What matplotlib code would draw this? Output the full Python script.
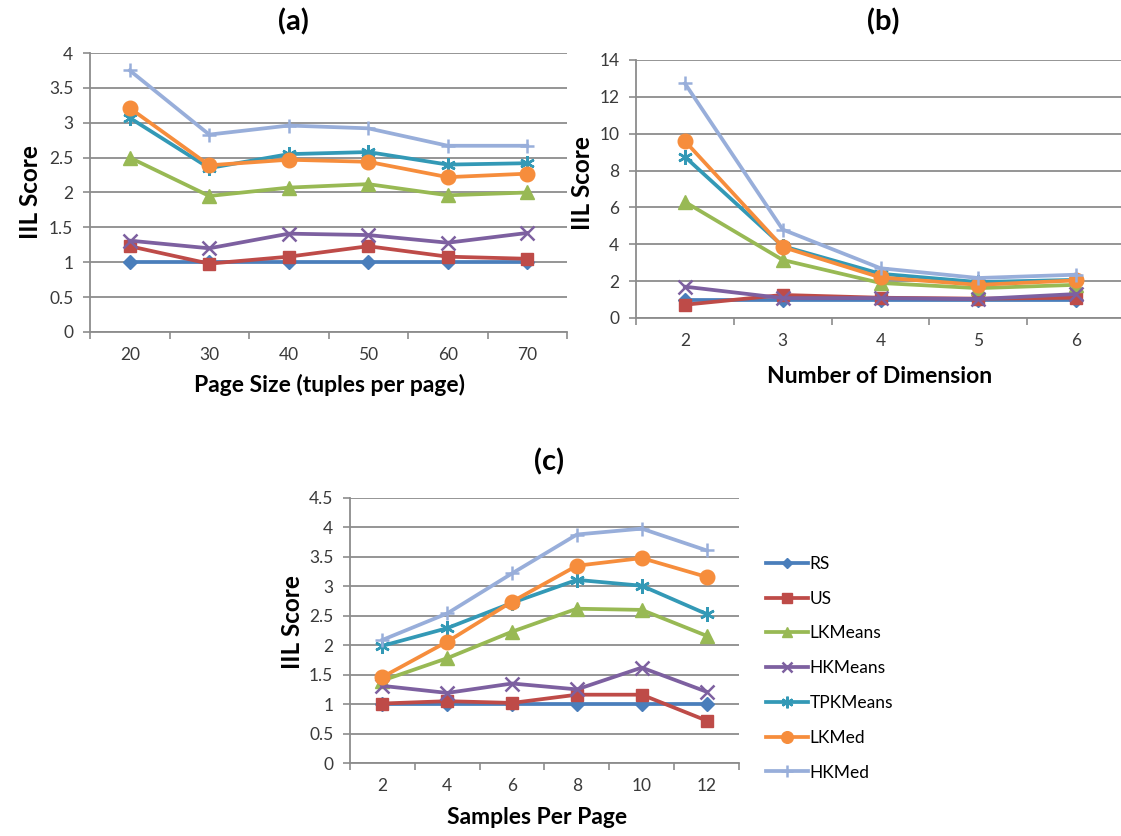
import matplotlib
matplotlib.use("Agg")
import matplotlib.pyplot as plt
from matplotlib.ticker import FixedLocator, NullFormatter, FixedFormatter

plt.rcParams['font.family'] = ['Lato', 'DejaVu Sans']

series_names = ["RS", "US", "LKMeans", "HKMeans", "TPKMeans", "LKMed", "HKMed"]

# Panel (a)
page_sizes = ["20", "30", "40", "50", "60", "70"]
a_RS       = [1.00, 1.00, 1.00, 1.00, 1.00, 1.00]
a_US       = [1.23, 0.98, 1.08, 1.23, 1.08, 1.05]
a_LKMeans  = [2.50, 1.95, 2.07, 2.12, 1.96, 2.00]
a_HKMeans  = [1.31, 1.20, 1.41, 1.39, 1.28, 1.42]
a_TPKMeans = [3.07, 2.35, 2.55, 2.58, 2.40, 2.42]
a_LKMed    = [3.21, 2.39, 2.47, 2.44, 2.22, 2.27]
a_HKMed    = [3.75, 2.83, 2.96, 2.92, 2.67, 2.67]

# Panel (b)
dimensions = ["2", "3", "4", "5", "6"]
b_RS       = [1.00, 1.00, 1.00, 1.00, 1.00]
b_US       = [0.72, 1.25, 1.10, 1.05, 1.10]
b_LKMeans  = [6.30, 3.15, 1.90, 1.62, 1.80]
b_HKMeans  = [1.70, 1.08, 1.08, 1.03, 1.30]
b_TPKMeans = [8.75, 3.90, 2.40, 1.95, 2.07]
b_LKMed    = [9.60, 3.85, 2.20, 1.80, 2.04]
b_HKMed    = [12.73, 4.80, 2.70, 2.17, 2.35]

# Panel (c)
samples = ["2", "4", "6", "8", "10", "12"]
c_RS       = [1.00, 1.00, 1.00, 1.00, 1.00, 1.00]
c_US       = [1.01, 1.05, 1.02, 1.16, 1.16, 0.72]
c_LKMeans  = [1.40, 1.78, 2.23, 2.62, 2.60, 2.16]
c_HKMeans  = [1.31, 1.19, 1.35, 1.25, 1.62, 1.21]
c_TPKMeans = [1.99, 2.29, 2.72, 3.11, 3.01, 2.53]
c_LKMed    = [1.46, 2.06, 2.74, 3.35, 3.48, 3.16]
c_HKMed    = [2.09, 2.54, 3.22, 3.88, 3.98, 3.61]

colors = {"RS": "#4A7EBB", "US": "#BE4B48", "LKMeans": "#98B954", "HKMeans": "#7D60A0",
          "TPKMeans": "#3399B6", "LKMed": "#F68D3C", "HKMed": "#98AEDA"}
markers = {"RS": ("D", 7), "US": ("s", 9), "LKMeans": ("^", 9.5), "HKMeans": ("x", 9.5),
           "TPKMeans": ((6, 2, 0), 10.5), "LKMed": ("o", 10.5), "HKMed": ("+", 10.5)}

W, H = 1121, 836
fig = plt.figure(figsize=(W / 100, H / 100), dpi=100)

def frect(l, r, t, b):
    return [l / W, 1 - b / H, (r - l) / W, (b - t) / H]

GRID = "#8C8C8C"
TICKC = "#3A3A3A"

def draw(ax, cats, data, ymax, ystep, yfmt):
    n = len(cats)
    x = list(range(n))
    for name in series_names:
        m, ms = markers[name]
        lw = 2.7
        mew = 1.8 if name in ("HKMeans", "TPKMeans", "HKMed") else 1.0
        ax.plot(x, data[name], color=colors[name], lw=lw, marker=m, ms=ms,
                mec=colors[name], mfc=colors[name], mew=mew, label=name, zorder=3)
    ax.set_xlim(-0.5, n - 0.5)
    ax.set_ylim(0, ymax)
    yt = [i * ystep for i in range(int(round(ymax / ystep)) + 1)]
    ax.set_yticks(yt)
    ax.set_yticklabels([yfmt(v) for v in yt])
    ax.yaxis.grid(True, color=GRID, lw=1.3)
    ax.set_axisbelow(True)
    ax.xaxis.set_major_locator(FixedLocator([i - 0.5 for i in range(n + 1)]))
    ax.xaxis.set_major_formatter(NullFormatter())
    ax.xaxis.set_minor_locator(FixedLocator(x))
    ax.xaxis.set_minor_formatter(FixedFormatter(cats))
    ax.tick_params(axis='x', which='major', length=5, width=1.2, color=GRID, direction='out')
    ax.tick_params(axis='x', which='minor', length=0, pad=11, labelsize=12.5, labelcolor=TICKC)
    ax.tick_params(axis='y', length=5, width=1.2, color=GRID, pad=7, labelsize=12.5, labelcolor=TICKC)
    for s in ("top", "right"):
        ax.spines[s].set_visible(False)
    for s in ("left", "bottom"):
        ax.spines[s].set_color(GRID)
        ax.spines[s].set_linewidth(1.3)

def fmt_half(v):
    return "%g" % v

ax_a = fig.add_axes(frect(90, 567, 53, 332))
draw(ax_a, page_sizes, {"RS": a_RS, "US": a_US, "LKMeans": a_LKMeans, "HKMeans": a_HKMeans,
                        "TPKMeans": a_TPKMeans, "LKMed": a_LKMed, "HKMed": a_HKMed},
     4, 0.5, fmt_half)

ax_b = fig.add_axes(frect(636, 1125, 60, 318))
draw(ax_b, dimensions, {"RS": b_RS, "US": b_US, "LKMeans": b_LKMeans, "HKMeans": b_HKMeans,
                        "TPKMeans": b_TPKMeans, "LKMed": b_LKMed, "HKMed": b_HKMed},
     14, 2, fmt_half)

ax_c = fig.add_axes(frect(350, 739, 498, 763))
draw(ax_c, samples, {"RS": c_RS, "US": c_US, "LKMeans": c_LKMeans, "HKMeans": c_HKMeans,
                     "TPKMeans": c_TPKMeans, "LKMed": c_LKMed, "HKMed": c_HKMed},
     4.5, 0.5, fmt_half)

def ftext(x, y, s, **kw):
    fig.text(x / W, 1 - y / H, s, ha='center', va='center', **kw)

ftext(293, 22, "(a)", fontsize=21, fontweight='bold')
ftext(883, 22, "(b)", fontsize=21, fontweight='bold')
ftext(549, 462, "(c)", fontsize=21, fontweight='bold')

ftext(330, 385, "Page Size (tuples per page)", fontsize=16.5, fontweight='bold')
ftext(880, 377, "Number of Dimension", fontsize=16.5, fontweight='bold')
ftext(537, 818, "Samples Per Page", fontsize=16.5, fontweight='bold')

ftext(30, 192, "IIL Score", fontsize=17.5, fontweight='bold', rotation=90)
ftext(582, 183, "IIL Score", fontsize=17.5, fontweight='bold', rotation=90)
ftext(293, 622, "IIL Score", fontsize=17.5, fontweight='bold', rotation=90)

handles, labels = ax_c.get_legend_handles_labels()
leg = fig.legend(handles, labels, loc='upper left', bbox_to_anchor=(766 / W, 1 - 556 / H),
                 frameon=False, fontsize=12.5, labelspacing=1.08, handlelength=2.4,
                 handletextpad=0.12, borderpad=0, borderaxespad=0, markerscale=0.8)

fig.savefig("out.png", dpi=100)
